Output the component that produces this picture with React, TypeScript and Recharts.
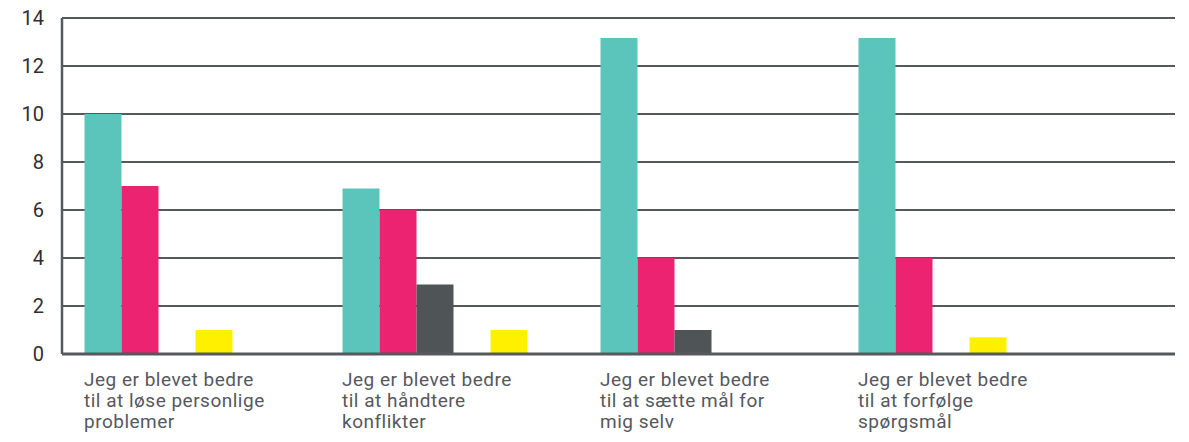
import React from "react";
import { BarChart, Bar, XAxis, YAxis, CartesianGrid } from "recharts";

document.body.style.margin = "0";

const categories = [
  "Jeg er blevet bedre\ntil at løse personlige\nproblemer",
  "Jeg er blevet bedre\ntil at håndtere\nkonflikter",
  "Jeg er blevet bedre\ntil at sætte mål for\nmig selv",
  "Jeg er blevet bedre\ntil at forfølge\nspørgsmål",
];
const serieA = [10, 6.9, 13.17, 13.17];
const serieB = [7, 6, 4, 4];
const serieC = [0, 2.9, 1, 0];
const serieD = [1, 0, 0, 0.7];
const serieE = [0, 1, 0, 0];
const yTicks = [0, 2, 4, 6, 8, 10, 12, 14];

const data = categories.map((name, i) => ({
  name,
  a: serieA[i],
  b: serieB[i],
  c: serieC[i],
  d: serieD[i],
  e: serieE[i],
}));

const BAR = 37;
const AXIS = "#55595d";

function CategoryTick(props: any) {
  const { x, y, payload } = props;
  const lines = String(payload.value).split("\n");
  return (
    <text
      x={x - (BAR * 5) / 2}
      y={y + 30}
      textAnchor="start"
      fill="#55585c"
      fontSize={19}
      letterSpacing={0.5}
      fontFamily="Roboto"
    >
      {lines.map((l, i) => (
        <tspan key={i} x={x - (BAR * 5) / 2} dy={i === 0 ? 0 : 21}>
          {l}
        </tspan>
      ))}
    </text>
  );
}

export default function App() {
  return (
    <BarChart
      width={1189}
      height={442}
      data={data}
      margin={{ top: 18, right: 14, left: 0, bottom: 0 }}
      barGap={0}
      barSize={BAR}
    >
      <CartesianGrid vertical={false} stroke={AXIS} strokeWidth={2} />
      <XAxis
        dataKey="name"
        height={88}
        interval={0}
        tickLine={false}
        tickSize={0}
        tick={<CategoryTick />}
        stroke={AXIS}
        strokeWidth={3}
        padding={{ left: -14.5, right: 95.5 }}
      />
      <YAxis
        width={62}
        domain={[0, 14]}
        ticks={yTicks}
        tickLine={false}
        tickSize={0}
        tickMargin={18}
        stroke={AXIS}
        strokeWidth={2.5}
        tick={{ fill: "#2e2e2e", fontSize: 20, fontFamily: "Roboto" }}
      />
      <Bar dataKey="a" fill="#5cc5bb" isAnimationActive={false} />
      <Bar dataKey="b" fill="#ec2370" isAnimationActive={false} />
      <Bar dataKey="c" fill="#4f5457" isAnimationActive={false} />
      <Bar dataKey="d" fill="#fff000" isAnimationActive={false} />
      <Bar dataKey="e" fill="#fff000" isAnimationActive={false} />
    </BarChart>
  );
}
